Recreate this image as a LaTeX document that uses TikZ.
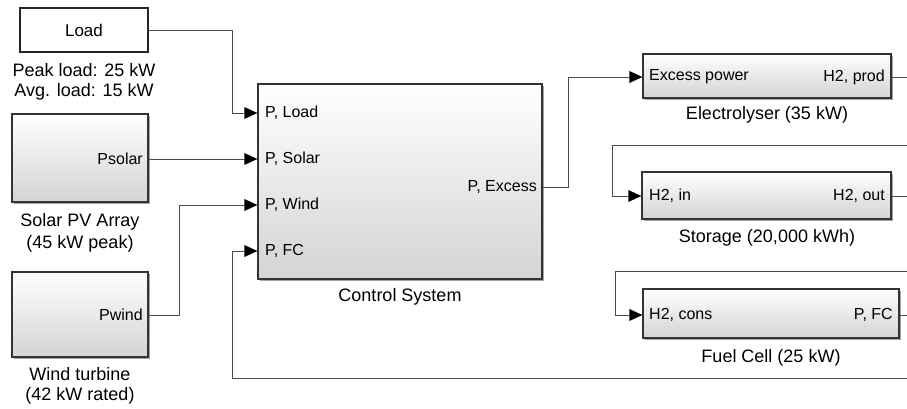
\documentclass[tikz,border=0pt]{standalone}
\usepackage{fontspec}
\setmainfont{Liberation Sans}
\usetikzlibrary{arrows.meta,shadows,positioning}

\begin{document}
\begin{tikzpicture}[x=1pt,y=-1pt,
  blk/.style={draw=black!80,line width=1.3pt,top color=white,bottom color=black!17,
    drop shadow={shadow xshift=1.5pt,shadow yshift=-1.5pt,fill=black!45,opacity=0.8}},
  plainblk/.style={draw=black!85,line width=1.3pt,fill=white},
  wire/.style={draw=black!70,line width=0.9pt,
    -{Triangle[length=13pt,width=12pt,line width=0pt,fill=black,color=black]}},
  port/.style={font=\fontsize{16}{18}\selectfont,inner sep=0pt},
  blkcap/.style={font=\fontsize{18}{20}\selectfont,inner sep=0pt,align=center}]

\useasboundingbox (0,0) rectangle (907,408);
\clip (0,0) rectangle (907,408);

% return columns behind the right edge
\coordinate (ret1) at (920,145);
\coordinate (ret2) at (920,271);
\coordinate (ret3) at (920,378);

%=== Sources ===
\node[plainblk,minimum width=128,minimum height=44,font=\fontsize{17}{20}\selectfont]
  (load) at (84,30) {Load};
\node[blkcap] (loadcap) at (84,81.7) {Peak load: 25 kW\\Avg. load: 15 kW};

\node[blk,minimum width=136,minimum height=88] (solar) at (80,158) {};
\node[port,anchor=east] (psolar) at (143,159) {Psolar};
\node[blkcap] (solarcap) at (80,233) {Solar PV Array\\[2pt](45 kW peak)};

\node[blk,minimum width=136,minimum height=85] (wind) at (80,314.5) {};
\node[port,anchor=east] (pwind) at (143,315) {Pwind};
\node[blkcap] (windcap) at (80,385.7) {Wind turbine\\(42 kW rated)};

%=== Control system ===
\node[blk,minimum width=284,minimum height=195] (ctrl) at (400,181.5) {};
\foreach \nm/\txt/\yy in {pload/{P, Load}/113,psol/{P, Solar}/159,
                          pwnd/{P, Wind}/205,pfc/{P, FC}/251}
  \node[port,anchor=west] (\nm) at (265,\yy) {\txt};
\node[port,anchor=east] (pexc) at (537,187) {P, Excess};
\node[blkcap] (ctrlcap) at (400,297) {Control System};

%=== Hydrogen chain ===
\node[blk,minimum width=248,minimum height=44] (elec) at (767,76) {};
\node[port,anchor=west] (exin) at (649,77) {Excess power};
\node[port,anchor=east] (h2prod) at (885,77) {H2, prod};
\node[blkcap] (eleccap) at (767,115) {Electrolyser (35 kW)};

\node[blk,minimum width=249,minimum height=47] (stor) at (766.5,195.5) {};
\node[port,anchor=west] (h2in) at (649,196) {H2, in};
\node[port,anchor=east] (h2out) at (885,196) {H2, out};
\node[blkcap] (storcap) at (767,238) {Storage (20,000 kWh)};

\node[blk,minimum width=256,minimum height=49] (fc) at (771,313.5) {};
\node[port,anchor=west] (h2cons) at (649,315) {H2, cons};
\node[port,anchor=east] (pfcout) at (893,315) {P, FC};
\node[blkcap] (fccap) at (771,358) {Fuel Cell (25 kW)};

%=== Signal lines ===
\draw[wire] (load.east) -| ([xshift=-25pt]ctrl.west |- pload) -- (ctrl.west |- pload);
\draw[wire] (solar.east |- psolar) -- (ctrl.west |- psol);
\draw[wire] (wind.east |- pwind) -| ([xshift=-78pt]ctrl.west |- pwnd) -- (ctrl.west |- pwnd);
\draw[wire] (ctrl.east |- pexc) -| ([xshift=-74pt]elec.west |- exin) -- (elec.west |- exin);

% loops closing outside the frame
\draw[wire] (elec.east |- h2prod) -| (ret1) -| ([xshift=-29pt]stor.west |- h2in) -- (stor.west |- h2in);
\draw[wire] (stor.east |- h2out) -| (ret2) -| ([xshift=-27pt]fc.west |- h2cons) -- (fc.west |- h2cons);
\draw[wire] (fc.east |- pfcout) -| (ret3) -| ([xshift=-25pt]ctrl.west |- pfc) -- (ctrl.west |- pfc);

\end{tikzpicture}
\end{document}
